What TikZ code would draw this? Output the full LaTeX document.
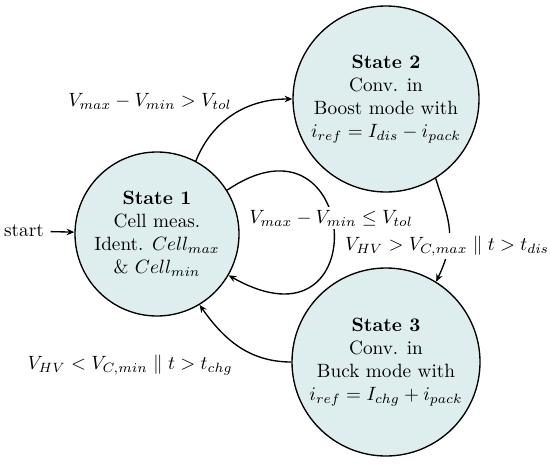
\documentclass[tikz,border=0pt]{standalone}
\usetikzlibrary{arrows.meta}
\definecolor{statefill}{RGB}{222,237,237}
\begin{document}
\begin{tikzpicture}[x=0.52pt,y=-0.52pt,
  state/.style={circle,draw,fill=statefill,line width=0.7pt,align=center,inner sep=0pt},
  conn/.style={line width=0.7pt,-{Stealth[length=4pt,width=3.4pt]}},
  lbl/.style={inner sep=1pt},
  mask/.style={fill=white,inner sep=1.5pt}]
\useasboundingbox (0,0) rectangle (550,463);
\node[state,minimum size=164*0.52pt] (s1) at (157,234) {\textbf{State 1}\\Cell meas.\\Ident. $Cell_{max}$\\\& $Cell_{min}$};
\node[state,minimum size=186*0.52pt] (s2) at (386,99) {\textbf{State 2}\\Conv. in\\Boost mode with\\$i_{ref}=I_{dis}-i_{pack}$};
\node[state,minimum size=188*0.52pt] (s3) at (386,362) {\textbf{State 3}\\Conv. in\\Buck mode with\\$i_{ref}=I_{chg}+i_{pack}$};
\node (start) at (24,231) {start};
\draw[conn] (start) -- (s1);
\draw[conn] (s1.62) to[out=68,in=180] (s2.180);
\node[lbl] (l12) at (150,101) {$V_{max}-V_{min}>V_{tol}$};
\draw[conn] (s1.32) .. controls (360,100) and (378,360) .. (s1.-30);
\node[mask] (l11) at (331,218) {$V_{max}-V_{min}\leq V_{tol}$};
\draw[conn] (s2.-58) to[out=-72,in=65,looseness=1.2] (s3.58);
\node[mask] (l23) at (447,246) {$V_{HV}>V_{C,max}\parallel t>t_{dis}$};
\draw[conn] (s3.180) to[out=180,in=-55] (s1.-59);
\node[lbl] (l31) at (130,365) {$V_{HV}<V_{C,min}\parallel t>t_{chg}$};
\end{tikzpicture}
\end{document}
